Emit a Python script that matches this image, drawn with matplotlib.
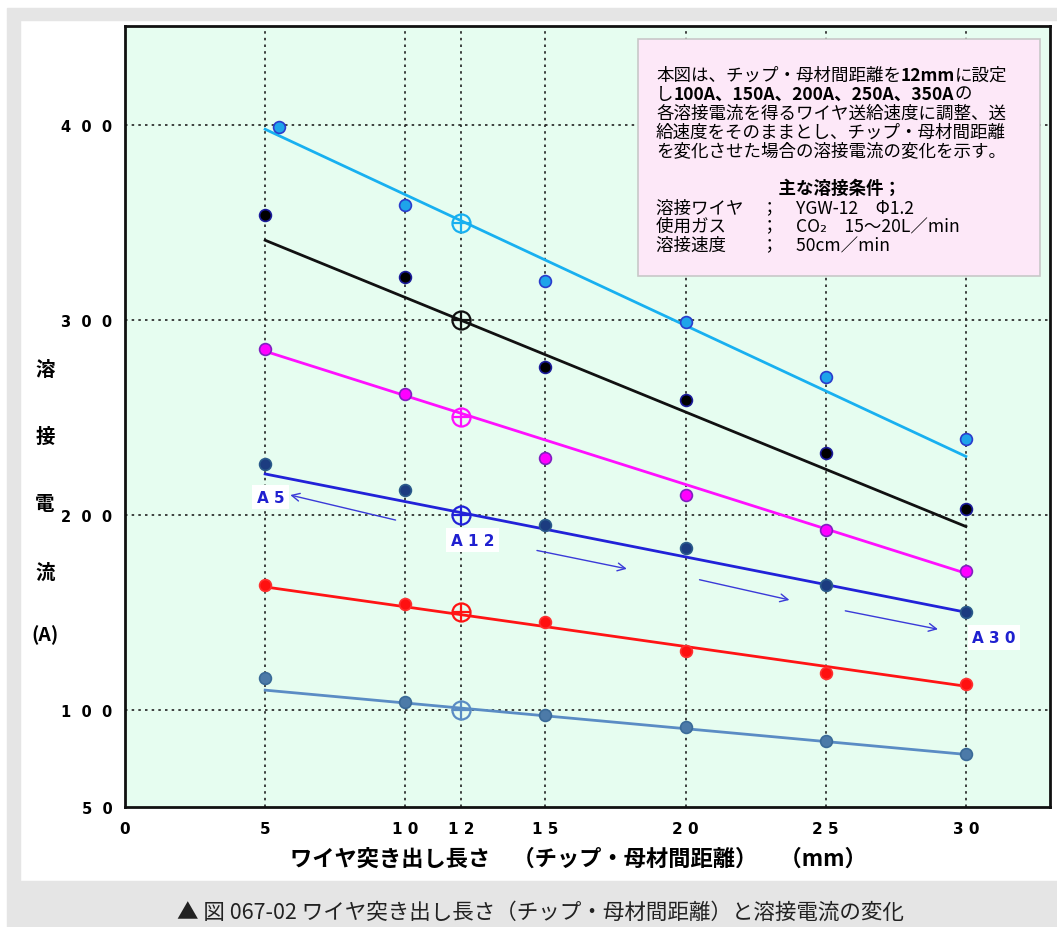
import numpy as np
import matplotlib.pyplot as plt
from matplotlib.patches import Rectangle
from matplotlib.offsetbox import TextArea, HPacker, VPacker, AnchoredOffsetbox

plt.rcParams['font.family'] = ['Noto Sans CJK JP', 'DejaVu Sans']

# measured points (wire extension mm vs welding current A)
x_pts = [5, 10, 15, 20, 25, 30]
cyan_x = [5.5, 10, 15, 20, 25, 30]
cyan = [399, 359, 320, 299, 271, 239]
black = [354, 322, 276, 259, 232, 203]
magenta = [285, 262, 229, 210, 192, 171]
blue = [226, 213, 195, 183, 164, 150]
red = [164, 154, 145, 130, 119, 113]
steel = [116, 104, 97, 91, 84, 77]

# currents set at 12 mm
x_set = 12
set_currents = [350, 300, 250, 200, 150, 100]

# trend lines from 5 mm to 30 mm
fit_x = [5, 30]
fit_cyan = [398, 230]
fit_black = [341, 194]
fit_magenta = [284, 170]
fit_blue = [221, 150]
fit_red = [163, 112]
fit_steel = [110, 77]

x_ticks = [0, 5, 10, 12, 15, 20, 25, 30]
y_ticks = [50, 100, 200, 300, 400]

fig = plt.figure(figsize=(10.57, 9.28), dpi=100)

# page frame
fig.patches.append(Rectangle((7/1057, 1-21/928), 1, 12/928, transform=fig.transFigure,
                             color='#e5e5e5', zorder=0))
fig.patches.append(Rectangle((7/1057, 46/928), 13/1057, 1-67/928, transform=fig.transFigure,
                             color='#e5e5e5', zorder=0))
fig.patches.append(Rectangle((7/1057, 0), 1, 46/928, transform=fig.transFigure,
                             color='#e5e5e5', zorder=0))

ax = fig.add_axes([125/1057, 1-808/928, 925/1057, 781/928])
ax.set_facecolor('#e6fdf0')
ax.set_xlim(0, 33)
ax.set_ylim(50, 451)

series = [
    (cyan_x, cyan, fit_cyan, '#18b0f0', '#1ea4ea', '#2a3ccc'),
    (x_pts, black, fit_black, '#111111', '#000000', '#1a1a9a'),
    (x_pts, magenta, fit_magenta, '#ff10ff', '#ff00ff', '#8020c0'),
    (x_pts, blue, fit_blue, '#2222d8', '#1c3c80', '#2a5a8a'),
    (x_pts, red, fit_red, '#ff1414', '#ff1010', '#ff3030'),
    (x_pts, steel, fit_steel, '#5a8cc4', '#4c7aa8', '#3a6a98'),
]

for (xs, ys, fit, lc, fc, ec), ys12 in zip(series, set_currents):
    ax.plot(fit_x, fit, color=lc, lw=2, zorder=3)
    ax.plot(xs, ys, 'o', ms=8.5, mfc=fc, mec=ec, mew=1.2, zorder=4)
    ax.plot(x_set, ys12, 'o', ms=13, mfc='none', mec=lc, mew=1.6, zorder=5)
    ax.plot(x_set, ys12, '+', ms=13, mec=lc, mew=1.6, zorder=5)

# arrows and A labels
arrows = [((9.75, 197), (5.8, 210.5)), ((14.6, 182), (18.0, 172)),
          ((20.4, 167), (23.8, 156)), ((25.6, 151), (29.1, 141))]
for start, end in arrows:
    ax.annotate('', xy=end, xytext=start,
                arrowprops=dict(arrowstyle='->', color='#3a3ad8', lw=1, mutation_scale=14),
                zorder=6)
for lx, ly, lab in [(5.2, 209, 'A 5'), (12.4, 187, 'A 1 2'), (31.0, 137, 'A 3 0')]:
    ax.text(lx, ly, lab, ha='center', va='center', fontsize=11, fontweight='bold',
            color='#2020d0', zorder=7, family='DejaVu Sans',
            bbox=dict(boxstyle='square,pad=0.3', fc='white', ec='none'))

# grid
for gx in x_ticks[1:]:
    ax.axvline(gx, color='#222222', lw=1.2, ls=(0, (1.5, 2.5)), zorder=1)
for gy in y_ticks[1:]:
    ax.axhline(gy, color='#222222', lw=1.2, ls=(0, (1.5, 2.5)), zorder=1)

ax.set_xticks(x_ticks)
ax.set_xticklabels([' '.join(str(t)) for t in x_ticks], fontsize=11, fontweight='bold',
                   family='DejaVu Sans')
ax.tick_params(axis='x', length=0, pad=10)
ax.set_yticks(y_ticks)
ax.set_yticklabels(['  '.join(str(t)) for t in y_ticks], fontsize=10.5, fontweight='bold',
                   family='DejaVu Sans')
ax.tick_params(axis='y', length=0, pad=9)
for s in ax.spines.values():
    s.set_linewidth(2)
    s.set_color('#111111')

# axis titles
for ch, py in [('溶', 370), ('接', 437), ('電', 505), ('流', 573), ('(A)', 635)]:
    fig.text(45/1057, 1-py/928, ch, ha='center', va='center', fontsize=14, fontweight='bold')
fig.text(578/1057, 1-859/928, 'ワイヤ突き出し長さ　（チップ・母材間距離）　（mm）',
         ha='center', va='center', fontsize=16, fontweight='bold')

# note box
ax.add_patch(Rectangle(((638-125)/925, (808-277)/781), 402/925, 237/781,
                       transform=ax.transAxes, fc='#fde8f8', ec='#c8c8c8', lw=1.2, zorder=8))
fs = 12.6
def ta(s, bold=False):
    return TextArea(s, textprops=dict(fontsize=fs, fontweight='bold' if bold else 'normal',
                                      family=['Noto Sans CJK JP', 'DejaVu Sans']))

lines = [
    HPacker(children=[ta('本図は、チップ・母材間距離を'), ta('12mm', True), ta('に設定')], pad=0, sep=0),
    HPacker(children=[ta('し'), ta('100A、150A、200A、250A、350A', True), ta('の')], pad=0, sep=0),
    ta('各溶接電流を得るワイヤ送給速度に調整、送'),
    ta('給速度をそのままとし、チップ・母材間距離'),
    ta('を変化させた場合の溶接電流の変化を示す。'),
    ta(' '),
    ta('　　　　　　　主な溶接条件；', True),
    ta('溶接ワイヤ　；　YGW-12　Φ1.2'),
    ta('使用ガス　　；　CO₂　15～20L／min'),
    ta('溶接速度　　；　50cm／min'),
]
box = VPacker(children=lines, align='left', pad=0, sep=0.6)
anch = AnchoredOffsetbox(loc='upper left', child=box, pad=0, borderpad=0,
                         bbox_to_anchor=((656-125)/925, (808-67)/781), bbox_transform=ax.transAxes,
                         frameon=False)
anch.set_zorder(9)
ax.add_artist(anch)

# caption
fig.text(540/1057, 1-913/928, '▲ 図 067-02 ワイヤ突き出し長さ（チップ・母材間距離）と溶接電流の変化',
         ha='center', va='center', fontsize=15.5, family=['Noto Sans CJK JP', 'DejaVu Sans'],
         color='#222222')

fig.savefig('out.png', dpi=100)
